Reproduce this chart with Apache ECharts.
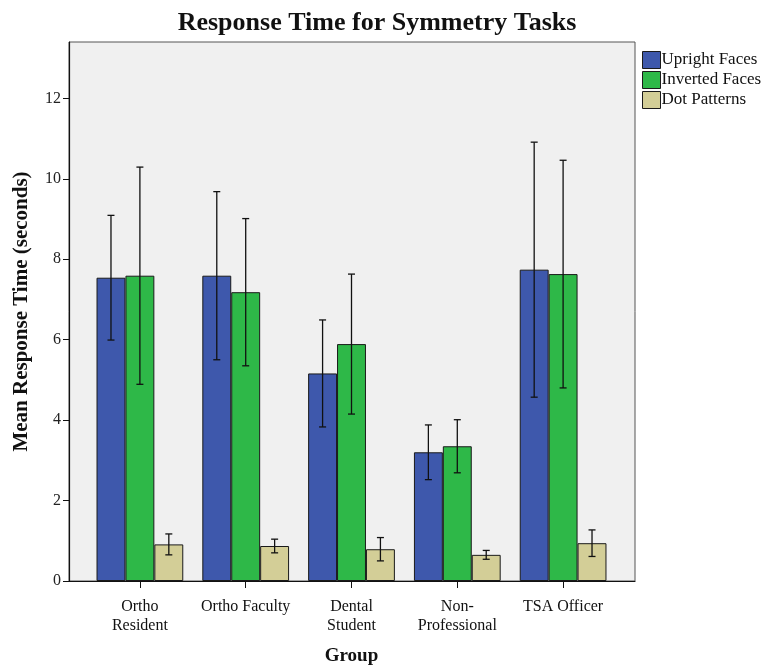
<!DOCTYPE html>
<html>
<head>
<meta charset="utf-8">
<script src="https://cdn.jsdelivr.net/npm/echarts@6/dist/echarts.min.js"></script>
<style>
  html, body { margin: 0; padding: 0; background: #fff; }
  #chart { width: 770px; height: 671px; }
</style>
</head>
<body>
<div id="chart"></div>
<script>
// Groups along the x axis
const groups = ['Ortho\nResident', 'Ortho Faculty', 'Dental\nStudent', 'Non-\nProfessional', 'TSA Officer'];
const seriesNames = ['Upright Faces', 'Inverted Faces', 'Dot Patterns'];

// Mean response time (seconds) per group
const uprightMean = [7.54, 7.59, 5.16, 3.20, 7.74];
const invertedMean = [7.59, 7.18, 5.89, 3.35, 7.63];
const dotMean = [0.91, 0.87, 0.79, 0.65, 0.94];

// Half-length of the error bars (seconds)
const uprightErr = [1.55, 2.09, 1.33, 0.68, 3.17];
const invertedErr = [2.70, 1.83, 1.74, 0.66, 2.83];
const dotErr = [0.26, 0.17, 0.29, 0.11, 0.33];

const yTicks = [0, 2, 4, 6, 8, 10, 12];

const colors = ['#3E58AC', '#2EB848', '#D3CE97'];
const means = [uprightMean, invertedMean, dotMean];
const errs = [uprightErr, invertedErr, dotErr];

const SERIF = '"Liberation Serif", "DejaVu Serif", serif';
const CAT_GAP = 0.18;
const Y_MAX = 13.4;

function errorBarRenderer(slot) {
  return function (params, api) {
    const cat = api.value(0);
    const mean = api.value(1);
    const err = api.value(2);
    const band = api.size([1, 0])[0];
    const barW = band * (1 - CAT_GAP) / 3;
    const x = api.coord([cat, mean])[0] + (slot - 1) * barW;
    const yHi = api.coord([cat, mean + err])[1];
    const yLo = api.coord([cat, mean - err])[1];
    const cap = 3.5;
    const style = { stroke: '#111', lineWidth: 1.3 };
    return {
      type: 'group',
      children: [
        { type: 'line', shape: { x1: x, y1: yHi, x2: x, y2: yLo }, style: style },
        { type: 'line', shape: { x1: x - cap, y1: yHi, x2: x + cap, y2: yHi }, style: style },
        { type: 'line', shape: { x1: x - cap, y1: yLo, x2: x + cap, y2: yLo }, style: style }
      ]
    };
  };
}

const series = [];
seriesNames.forEach(function (name, s) {
  series.push({
    name: name,
    type: 'bar',
    xAxisIndex: 1,
    yAxisIndex: 1,
    data: means[s],
    barGap: '0%',
    barCategoryGap: (CAT_GAP * 100) + '%',
    itemStyle: { color: colors[s], borderColor: '#1a1a1a', borderWidth: 1 },
    emphasis: { disabled: true },
    z: 2
  });
});
seriesNames.forEach(function (name, s) {
  series.push({
    type: 'custom',
    xAxisIndex: 1,
    yAxisIndex: 1,
    renderItem: errorBarRenderer(s),
    data: means[s].map(function (m, i) { return [i, m, errs[s][i]]; }),
    encode: { x: 0, y: 1 },
    silent: true,
    z: 5
  });
});

const chart = echarts.init(document.getElementById('chart'), null, { renderer: 'canvas' });
chart.setOption({
  backgroundColor: '#ffffff',
  animation: false,
  title: {
    text: 'Response Time for Symmetry Tasks',
    left: 372,
    textAlign: 'center',
    top: 5,
    textStyle: { fontFamily: SERIF, fontWeight: 'bold', fontSize: 26, color: '#111' }
  },
  legend: {
    data: seriesNames,
    orient: 'vertical',
    left: 637,
    top: 46,
    itemWidth: 18,
    itemHeight: 17,
    itemGap: 2,
    icon: 'rect',
    selectedMode: false,
    itemStyle: { borderColor: '#1a1a1a', borderWidth: 1 },
    textStyle: { fontFamily: SERIF, fontSize: 17, color: '#111', padding: [0, 0, 0, -4] }
  },
  grid: [
    { left: 69, top: 42, width: 566, bottom: 90, show: true, backgroundColor: '#f0f0f0', borderColor: '#555', borderWidth: 1 },
    { left: 87, top: 42, width: 529, bottom: 90 }
  ],
  xAxis: [
    {
      type: 'value', gridIndex: 0, min: 0, max: 1,
      axisLine: { show: true, lineStyle: { color: '#111', width: 1.2 } },
      axisTick: { show: false }, axisLabel: { show: false }, splitLine: { show: false }
    },
    {
      type: 'category', gridIndex: 1, data: groups,
      axisLine: { show: false },
      axisTick: { show: true, alignWithLabel: true, length: 7, lineStyle: { color: '#111' } },
      axisLabel: { fontFamily: SERIF, fontSize: 16, color: '#111', margin: 16, lineHeight: 19, interval: 0 },
      name: 'Group',
      nameLocation: 'middle',
      nameGap: 66,
      nameTextStyle: { fontFamily: SERIF, fontWeight: 'bold', fontSize: 19, color: '#111' }
    }
  ],
  yAxis: [
    {
      type: 'value', gridIndex: 0, min: 0, max: Y_MAX, interval: 2,
      axisLine: { show: true, lineStyle: { color: '#111', width: 1.2 } },
      axisTick: { show: true, length: 6, lineStyle: { color: '#111' } },
      axisLabel: {
        fontFamily: SERIF, fontSize: 16, color: '#222', margin: 8,
        showMaxLabel: false,
        formatter: function (v) { return yTicks.indexOf(v) >= 0 ? String(v) : ''; }
      },
      splitLine: { show: false },
      name: 'Mean Response Time (seconds)',
      nameLocation: 'middle',
      nameGap: 37,
      nameTextStyle: { fontFamily: SERIF, fontWeight: 'bold', fontSize: 21, color: '#111' }
    },
    {
      type: 'value', gridIndex: 1, min: 0, max: Y_MAX, interval: 2,
      show: false, splitLine: { show: false }
    }
  ],
  series: series
});
</script>
</body>
</html>
